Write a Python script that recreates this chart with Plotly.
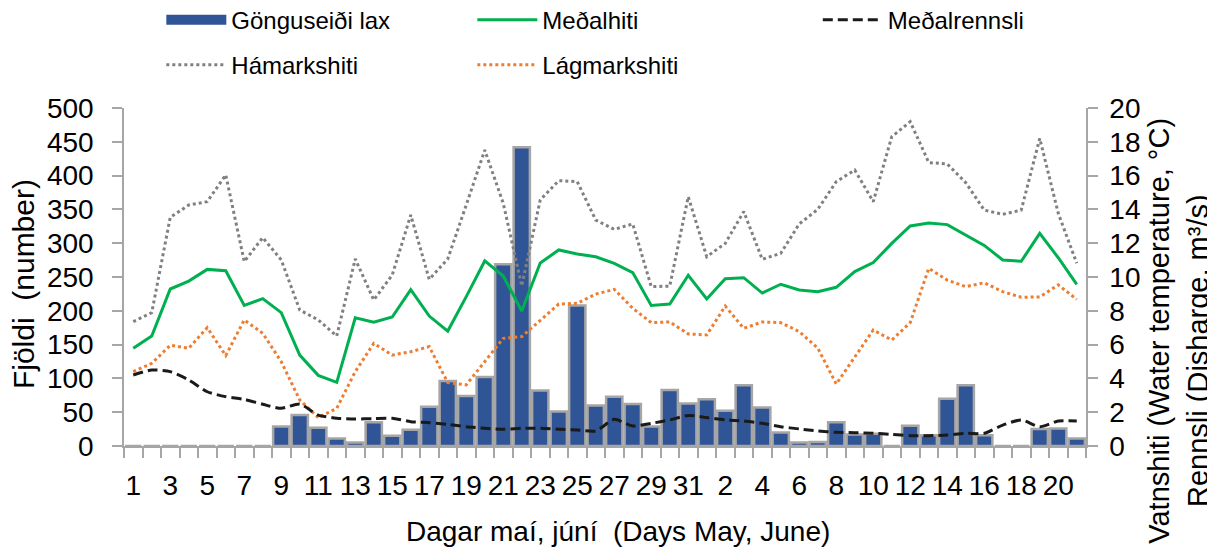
import plotly.graph_objects as go

# ---- data ----
day_labels = [str(d) for d in range(1, 32)] + [str(d) for d in range(1, 22)]
fish_count = [0, 0, 0, 0, 0, 0, 0, 0, 29, 46, 27, 11, 5, 35, 15, 24, 58, 96, 74, 102,
              269, 442, 82, 51, 208, 60, 73, 62, 29, 83, 63, 69, 52, 90, 57, 20, 5, 6, 35, 17,
              18, 0, 30, 16, 70, 90, 16, 0, 0, 25, 26, 11]
mean_temp = [5.78, 6.51, 9.29, 9.76, 10.45, 10.37, 8.32, 8.72, 7.89, 5.38, 4.18, 3.77, 7.59, 7.32,
             7.63, 9.25, 7.69, 6.80, 8.84, 10.95, 10.06, 7.99, 10.83, 11.60, 11.36, 11.20, 10.81,
             10.26, 8.32, 8.40, 10.10, 8.70, 9.90, 9.96, 9.05, 9.57, 9.23, 9.13, 9.39, 10.32, 10.85,
             11.99, 13.02, 13.20, 13.10, 12.49, 11.87, 11.01, 10.93, 12.58, 11.14, 9.57]
max_temp = [7.36, 7.89, 13.53, 14.26, 14.46, 16.04, 10.91, 12.33, 11.01, 8.05, 7.46, 6.51, 11.07,
            8.64, 10.12, 13.67, 9.86, 11.07, 14.26, 17.51, 14.36, 9.47, 14.56, 15.70, 15.64, 13.37,
            12.82, 13.14, 9.43, 9.46, 14.75, 11.20, 11.99, 13.87, 11.05, 11.40, 13.14, 14.0, 15.64,
            16.33, 14.46, 18.30, 19.19, 16.77, 16.69, 15.58, 13.96, 13.71, 13.96, 18.20, 13.77, 10.81]
min_temp = [4.40, 4.89, 5.96, 5.78, 7.00, 5.35, 7.46, 6.67, 4.99, 2.72, 1.68, 2.23, 4.40, 6.07,
            5.38, 5.58, 5.88, 3.75, 3.62, 4.99, 6.37, 6.47, 7.46, 8.40, 8.44, 8.99, 9.27, 8.15,
            7.30, 7.34, 6.63, 6.57, 8.28, 6.96, 7.34, 7.30, 6.77, 5.8, 3.67, 5.29, 6.86, 6.27,
            7.30, 10.51, 9.82, 9.43, 9.66, 9.13, 8.80, 8.82, 9.53, 8.68]
discharge = [4.20, 4.50, 4.40, 3.91, 3.21, 2.92, 2.76, 2.47, 2.23, 2.49, 1.83, 1.64, 1.60, 1.62,
             1.64, 1.44, 1.38, 1.28, 1.14, 1.05, 0.99, 1.05, 1.05, 0.99, 0.95, 0.89, 1.58, 1.18,
             1.34, 1.54, 1.81, 1.68, 1.54, 1.48, 1.34, 1.14, 1.01, 0.89, 0.81, 0.79, 0.75, 0.69,
             0.61, 0.61, 0.65, 0.75, 0.75, 1.24, 1.54, 1.14, 1.48, 1.48]
left_ticks = list(range(0, 501, 50))
right_ticks = list(range(0, 21, 2))

x = list(range(len(day_labels)))
FONT = "Liberation Sans, Arial, sans-serif"
AX = "#a6a6a6"
BAR_BLUE = "#2F5597"

fig = go.Figure()
fig.add_trace(go.Bar(x=x, y=fish_count, name="Gönguseiði lax", showlegend=False,
                     marker=dict(color=BAR_BLUE, line=dict(color=AX, width=2.5))))
# legend entry for the bars (wide swatch like the original)
fig.add_trace(go.Scatter(x=[None], y=[None], name="Gönguseiði lax", mode="lines",
                         line=dict(color=BAR_BLUE, width=14), legend="legend",
                         hoverinfo="skip"))
fig.add_trace(go.Scatter(x=x, y=max_temp, name="Hámarkshiti", mode="lines", yaxis="y2",
                         line=dict(color="#808080", width=3, dash="3px,3px"), legend="legend2"))
fig.add_trace(go.Scatter(x=x, y=min_temp, name="Lágmarkshiti", mode="lines", yaxis="y2",
                         line=dict(color="#ED7D31", width=3, dash="3px,3px"), legend="legend2"))
fig.add_trace(go.Scatter(x=x, y=mean_temp, name="Meðalhiti", mode="lines", yaxis="y2",
                         line=dict(color="#00B050", width=3), legend="legend"))
fig.add_trace(go.Scatter(x=x, y=discharge, name="Meðalrennsli", mode="lines", yaxis="y2",
                         line=dict(color="#1a1a1a", width=3, dash="10px,5px", shape="spline",
                                   smoothing=0.6), legend="legend3"))

leg_common = dict(orientation="h", xanchor="left", yanchor="middle",
                  entrywidth=236, entrywidthmode="pixels", itemwidth=60,
                  font=dict(size=24), bgcolor="rgba(0,0,0,0)", traceorder="normal")

# the page body adds an 8px offset, so the figure is 8px smaller and shifted
fig.update_layout(
    width=1207, height=542,
    margin=dict(l=116, r=129, t=100, b=104, autoexpand=False),
    paper_bgcolor="white", plot_bgcolor="white",
    font=dict(family=FONT, size=28, color="black"),
    bargap=0.12,
    xaxis=dict(range=[-0.5, len(x) - 0.5], tickmode="array", tickvals=x[::2],
               ticktext=day_labels[::2], ticks="", showline=True, linecolor=AX, linewidth=1.5,
               showgrid=False, zeroline=False, ticklabelstandoff=14,
               minor=dict(tickmode="array", tickvals=[i - 0.5 for i in range(len(x) + 1)],
                          ticks="outside", ticklen=10, tickcolor=AX, tickwidth=1.5, showgrid=False),
               tickfont=dict(size=28)),
    yaxis=dict(range=[0, 500], tickmode="array", tickvals=left_ticks, ticks="outside",
               ticklen=10, tickcolor=AX, tickwidth=1.5, showline=True, linecolor=AX, linewidth=1.5,
               showgrid=False, zeroline=False, ticklabelstandoff=13, tickfont=dict(size=28)),
    yaxis2=dict(range=[0, 20], overlaying="y", side="right", tickmode="array",
                tickvals=right_ticks, ticks="outside", ticklen=10, tickcolor=AX, tickwidth=1.5,
                showline=True, linecolor=AX, linewidth=1.5, showgrid=False, zeroline=False,
                ticklabelstandoff=6, tickfont=dict(size=28)),
    legend=dict(x=0.0388, y=1.26, **leg_common),
    legend2=dict(x=0.0388, y=1.127, **leg_common),
    legend3=dict(x=0.7212, y=1.26, **leg_common),
    annotations=[
        dict(text="Fjöldi \u00a0(number)", textangle=-90, xref="paper", yref="paper",
             x=-0.105, y=0.479, xanchor="center", yanchor="middle", showarrow=False,
             font=dict(size=30)),
        dict(text="Dagar maí, júní \u00a0(Days May, June)", xref="paper", yref="paper",
             x=0.5136, y=-0.2515, xanchor="center", yanchor="middle", showarrow=False,
             font=dict(size=28)),
        dict(text="Vatnshiti (Water temperature, °C)", textangle=-90, xref="paper", yref="paper",
             x=1.0755, y=0.340, xanchor="center", yanchor="middle", showarrow=False,
             font=dict(size=29)),
        dict(text="Rennsli (Disharge, m³/s)", textangle=-90, xref="paper", yref="paper",
             x=1.1164, y=0.284, xanchor="center", yanchor="middle", showarrow=False,
             font=dict(size=29)),
    ],
)

fig.write_html("out.html")
